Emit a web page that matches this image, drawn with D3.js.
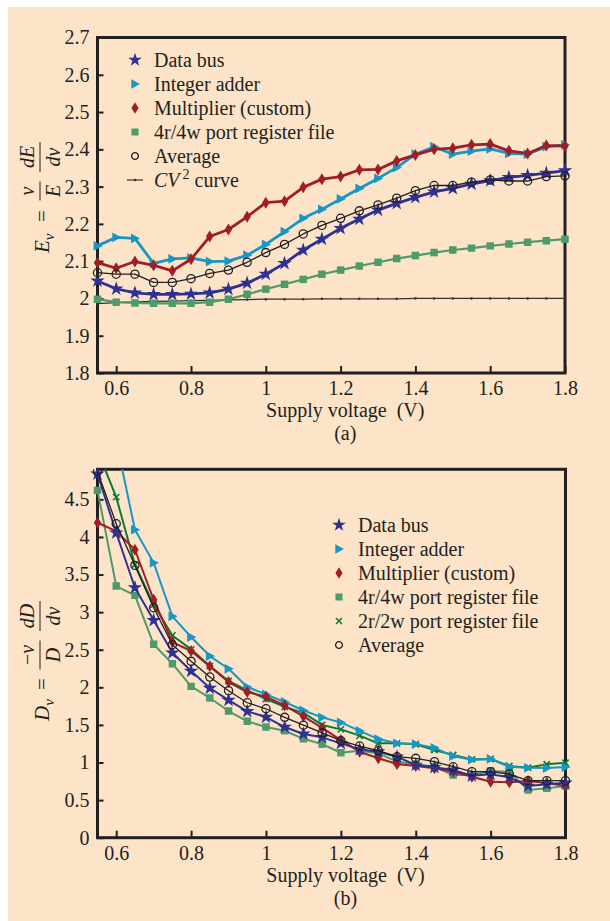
<!DOCTYPE html>
<html>
<head>
<meta charset="utf-8">
<script src="https://cdn.jsdelivr.net/npm/d3@7"></script>
<style>
  body { margin: 0; background: #fff; }
  svg { display: block; }
  text { font-family: "Liberation Serif", "Times New Roman", serif; fill: #231f20; }
</style>
</head>
<body>
<svg id="fig" width="610" height="921"></svg>
<script>
// supply voltage (V), shared by both panels
const voltage = [0.55, 0.6, 0.65, 0.7, 0.75, 0.8, 0.85, 0.9, 0.95, 1.0, 1.05, 1.1, 1.15,
                 1.2, 1.25, 1.3, 1.35, 1.4, 1.45, 1.5, 1.55, 1.6, 1.65, 1.7, 1.75, 1.8];

// panel (a): energy elasticity E_v
const evDataBus    = [2.047, 2.026, 2.015, 2.011, 2.011, 2.012, 2.015, 2.025, 2.041, 2.065, 2.094, 2.130, 2.159,
                      2.188, 2.213, 2.237, 2.255, 2.271, 2.286, 2.295, 2.307, 2.316, 2.325, 2.330, 2.336, 2.343];
const evIntAdder   = [2.141, 2.164, 2.161, 2.094, 2.106, 2.109, 2.099, 2.100, 2.116, 2.145, 2.179, 2.215, 2.239,
                      2.267, 2.295, 2.322, 2.351, 2.387, 2.407, 2.387, 2.395, 2.401, 2.389, 2.387, 2.407, 2.412];
const evMultiplier = [2.096, 2.081, 2.099, 2.089, 2.074, 2.105, 2.166, 2.185, 2.219, 2.257, 2.261, 2.298, 2.320,
                      2.327, 2.345, 2.346, 2.369, 2.385, 2.400, 2.403, 2.412, 2.414, 2.396, 2.389, 2.410, 2.409];
const evRegFile4   = [1.998, 1.990, 1.988, 1.987, 1.987, 1.987, 1.990, 1.998, 2.011, 2.025, 2.038, 2.051, 2.065,
                      2.076, 2.087, 2.097, 2.107, 2.115, 2.123, 2.130, 2.135, 2.141, 2.146, 2.151, 2.155, 2.159];
const evAverage    = [2.069, 2.065, 2.065, 2.043, 2.043, 2.053, 2.067, 2.076, 2.097, 2.123, 2.145, 2.173, 2.196,
                      2.215, 2.235, 2.251, 2.269, 2.289, 2.303, 2.303, 2.312, 2.318, 2.315, 2.315, 2.327, 2.329];
const evCV2        = [1.986, 1.989, 1.991, 1.992, 1.993, 1.994, 1.995, 1.996, 1.997, 1.998, 1.998, 1.998, 1.999,
                      1.999, 1.999, 1.999, 1.999, 2.000, 2.000, 2.000, 2.000, 2.000, 2.000, 2.000, 2.000, 2.000];

// panel (b): delay elasticity D_v
const dvDataBus    = [4.84, 4.056, 3.325, 2.891, 2.460, 2.217, 1.991, 1.831, 1.681, 1.605, 1.472, 1.380, 1.335,
                      1.255, 1.175, 1.144, 1.077, 0.967, 0.936, 0.900, 0.824, 0.843, 0.803, 0.688, 0.710, 0.731];
const dvIntAdder   = [6.60, 5.28, 4.096, 3.657, 2.944, 2.669, 2.416, 2.247, 2.004, 1.907, 1.805, 1.692, 1.600,
                      1.533, 1.421, 1.312, 1.255, 1.246, 1.195, 1.084, 1.038, 1.047, 0.944, 0.930, 0.927, 0.940];
const dvMultiplier = [4.189, 4.078, 3.830, 3.165, 2.602, 2.483, 2.279, 2.070, 1.937, 1.875, 1.758, 1.615, 1.460,
                      1.299, 1.144, 1.056, 0.980, 0.953, 0.923, 0.878, 0.811, 0.745, 0.737, 0.754, 0.727, 0.688];
const dvRegFile4   = [4.62, 3.347, 3.223, 2.572, 2.314, 2.013, 1.858, 1.685, 1.548, 1.472, 1.423, 1.315, 1.245,
                      1.130, 1.157, 1.122, 1.011, 0.980, 0.944, 0.834, 0.834, 0.887, 0.878, 0.634, 0.657, 0.688];
const dvRegFile2   = [5.15, 4.53, 3.63, 3.10, 2.69, 2.505, 2.283, 2.084, 1.960, 1.845, 1.740, 1.660, 1.500,
                      1.441, 1.357, 1.255, 1.255, 1.242, 1.166, 1.100, 1.042, 1.047, 0.953, 0.931, 0.976, 0.997];
const dvAverage    = [4.87, 4.176, 3.622, 3.059, 2.566, 2.346, 2.137, 1.955, 1.795, 1.715, 1.601, 1.497, 1.395,
                      1.290, 1.219, 1.157, 1.077, 1.056, 1.011, 0.944, 0.878, 0.878, 0.847, 0.758, 0.758, 0.758];

const xTicks  = [0.6, 0.8, 1, 1.2, 1.4, 1.6, 1.8];
const yTicksA = [1.8, 1.9, 2, 2.1, 2.2, 2.3, 2.4, 2.5, 2.6, 2.7];
const yTicksB = [0, 0.5, 1, 1.5, 2, 2.5, 3, 3.5, 4, 4.5];

const ink = "#231f20";
const svg = d3.select("#fig");

// peach page background
svg.append("rect").attr("x", 8).attr("y", 7).attr("width", 602).attr("height", 914).attr("fill", "#fde3c8");

function markerPath(type, s) {
    if (type === "star") return d3.symbol(d3.symbolStar, s * s * 1.15)();
    if (type === "tri") return `M${-s * 0.6},${-s * 0.75}L${s * 0.8},0L${-s * 0.6},${s * 0.75}Z`;
    if (type === "diamond") return `M0,${-s}L${s * 0.62},0L0,${s}L${-s * 0.62},0Z`;
    if (type === "square") return `M${-s * 0.62},${-s * 0.62}h${s * 1.24}v${s * 1.24}h${-s * 1.24}Z`;
    if (type === "circle") return d3.symbol(d3.symbolCircle, Math.PI * (s * 0.68) ** 2)();
    if (type === "cross") return `M${-s * 0.45},${-s * 0.45}L${s * 0.45},${s * 0.45}M${-s * 0.45},${s * 0.45}L${s * 0.45},${-s * 0.45}`;
    if (type === "dot") return d3.symbol(d3.symbolCircle, 5)();
}

function drawMarker(sel, type, color, s) {
    const p = sel.append("path").attr("d", markerPath(type, s));
    if (type === "circle") p.attr("fill", "none").attr("stroke", color).attr("stroke-width", 1.3);
    else if (type === "cross") p.attr("fill", "none").attr("stroke", color).attr("stroke-width", 1.6);
    else p.attr("fill", color);
    return p;
}

function drawPanel(o, idx) {
    const w = o.right - o.left, h = o.bottom - o.top;
    const g = svg.append("g").attr("transform", `translate(${o.left},${o.top})`);
    const x = d3.scaleLinear().domain([0.55, 1.8]).range([0, w]);
    const y = d3.scaleLinear().domain(o.yDomain).range([h, 0]);

    svg.append("defs").append("clipPath").attr("id", "clip" + idx)
        .append("rect").attr("x", -20).attr("y", 0).attr("width", w + 40).attr("height", h + 20);

    const xAxis = g.append("g").attr("transform", `translate(0,${h})`)
        .call(d3.axisBottom(x).tickValues(xTicks).tickFormat(d => String(d))
            .tickSizeInner(-7).tickSizeOuter(0).tickPadding(8));
    const yAxis = g.append("g")
        .call(d3.axisLeft(y).tickValues(o.yTicks).tickFormat(d => String(d))
            .tickSizeInner(-6).tickSizeOuter(0).tickPadding(8));
    [xAxis, yAxis].forEach(a => {
        a.select(".domain").remove();
        a.selectAll("line").attr("stroke", ink).attr("stroke-width", 2);
        a.selectAll("text").attr("font-size", 20).attr("fill", ink)
            .attr("font-family", "'Liberation Serif', 'Times New Roman', serif");
    });

    g.append("rect").attr("width", w).attr("height", h)
        .attr("fill", "none").attr("stroke", ink).attr("stroke-width", 3);

    const plot = g.append("g").attr("clip-path", `url(#clip${idx})`);
    const line = d3.line().x((d, i) => x(voltage[i])).y(d => y(d));
    o.series.forEach(s => {
        plot.append("path").datum(s.values).attr("d", line)
            .attr("fill", "none").attr("stroke", s.color).attr("stroke-width", s.width)
            .attr("stroke-linejoin", "round");
        s.values.forEach((v, i) => {
            const m = plot.append("g").attr("transform", `translate(${x(voltage[i])},${y(v)})`);
            drawMarker(m, s.marker, s.color, s.size);
        });
    });

    // legend
    const lg = svg.append("g");
    o.series.slice().sort((a, b) => a.order - b.order).forEach((s, i) => {
        const cy = o.legY + i * 24;
        const m = lg.append("g").attr("transform", `translate(${o.legX},${cy})`);
        if (s.marker === "dot") {
            m.append("line").attr("x1", -8).attr("x2", 8).attr("stroke", s.color).attr("stroke-width", 1.2);
        }
        drawMarker(m, s.marker, s.color, s.marker === "circle" ? 5 : s.size * 0.95);
        const t = lg.append("text").attr("x", o.legX + 19).attr("y", cy + 7).attr("font-size", 20);
        if (s.name === "CV2") {
            t.append("tspan").attr("font-style", "italic").text("CV");
            t.append("tspan").attr("font-size", 14).attr("dy", -8).attr("dx", 3).text("2");
            t.append("tspan").attr("dy", 8).text(" curve");
        } else {
            t.text(s.name);
        }
    });

    // axis title and caption
    const cx = (o.left + o.right) / 2 + 14;
    svg.append("text").attr("x", cx).attr("y", o.bottom + 44).attr("text-anchor", "middle")
        .attr("font-size", 20).attr("xml:space", "preserve").text("Supply voltage  (V)");
    svg.append("text").attr("x", cx).attr("y", o.bottom + 67).attr("text-anchor", "middle")
        .attr("font-size", 20).text(o.caption);
}

// rotated y labels written as small math expressions
function frac(g, u, num, den, barW) {
    const n = g.append("text").attr("x", u).attr("y", -15).attr("text-anchor", "middle").attr("font-size", 20);
    num.forEach(p => n.append("tspan").attr("font-style", p.it ? "italic" : "normal").text(p.t));
    const d = g.append("text").attr("x", u).attr("y", 11).attr("text-anchor", "middle").attr("font-size", 20);
    den.forEach(p => d.append("tspan").attr("font-style", p.it ? "italic" : "normal").text(p.t));
    g.append("line").attr("x1", u - barW / 2).attr("x2", u + barW / 2).attr("y1", -9).attr("y2", -9)
        .attr("stroke", ink).attr("stroke-width", 1);
}

function yLabel(px, py, sym, f1, f2) {
    const g = svg.append("g").attr("transform", `translate(${px},${py}) rotate(-90)`);
    const t = g.append("text").attr("font-size", 21);
    t.append("tspan").attr("font-style", "italic").text(sym);
    t.append("tspan").attr("font-style", "italic").attr("font-size", 15).attr("dy", 5).text("v");
    g.append("text").attr("x", 31).attr("font-size", 21).text("=");
    frac(g, f1.u, f1.num, f1.den, f1.w);
    frac(g, f2.u, f2.num, f2.den, f2.w);
}

yLabel(49, 253, "E",
    { u: 62, w: 19, num: [{ t: "v", it: true }], den: [{ t: "E", it: true }] },
    { u: 96, w: 30, num: [{ t: "dE", it: true }], den: [{ t: "dv", it: true }] });
yLabel(49, 721, "D",
    { u: 66, w: 29, num: [{ t: "\u2212", it: false }, { t: "v", it: true }], den: [{ t: "D", it: true }] },
    { u: 105, w: 30, num: [{ t: "dD", it: true }], den: [{ t: "dv", it: true }] });

drawPanel({
    left: 97.5, top: 37.5, right: 565, bottom: 373,
    yDomain: [1.8, 2.7], yTicks: yTicksA, legX: 135, legY: 60, caption: "(a)",
    series: [
        { name: "CV2", values: evCV2, color: "#333333", width: 1.2, marker: "dot", size: 3, order: 5 },
        { name: "4r/4w port register file", values: evRegFile4, color: "#4f9a6b", width: 2.2, marker: "square", size: 6, order: 3 },
        { name: "Data bus", values: evDataBus, color: "#2e3192", width: 2.8, marker: "star", size: 7.5, order: 0 },
        { name: "Integer adder", values: evIntAdder, color: "#1797c4", width: 2.8, marker: "tri", size: 6.5, order: 1 },
        { name: "Multiplier (custom)", values: evMultiplier, color: "#a01d26", width: 2.8, marker: "diamond", size: 6, order: 2 },
        { name: "Average", values: evAverage, color: ink, width: 1.3, marker: "circle", size: 6, order: 4 }
    ]
}, 0);

drawPanel({
    left: 97.5, top: 469.3, right: 565.5, bottom: 837.7,
    yDomain: [0, 4.9], yTicks: yTicksB, legX: 339, legY: 525, caption: "(b)",
    series: [
        { name: "4r/4w port register file", values: dvRegFile4, color: "#4f9a6b", width: 2, marker: "square", size: 6, order: 3 },
        { name: "2r/2w port register file", values: dvRegFile2, color: "#0a7a32", width: 2, marker: "cross", size: 7, order: 4 },
        { name: "Integer adder", values: dvIntAdder, color: "#1797c4", width: 2, marker: "tri", size: 6.5, order: 1 },
        { name: "Multiplier (custom)", values: dvMultiplier, color: "#a01d26", width: 2, marker: "diamond", size: 6, order: 2 },
        { name: "Data bus", values: dvDataBus, color: "#2e3192", width: 2, marker: "star", size: 7.5, order: 0 },
        { name: "Average", values: dvAverage, color: ink, width: 1.3, marker: "circle", size: 6, order: 5 }
    ]
}, 1);
</script>
</body>
</html>
